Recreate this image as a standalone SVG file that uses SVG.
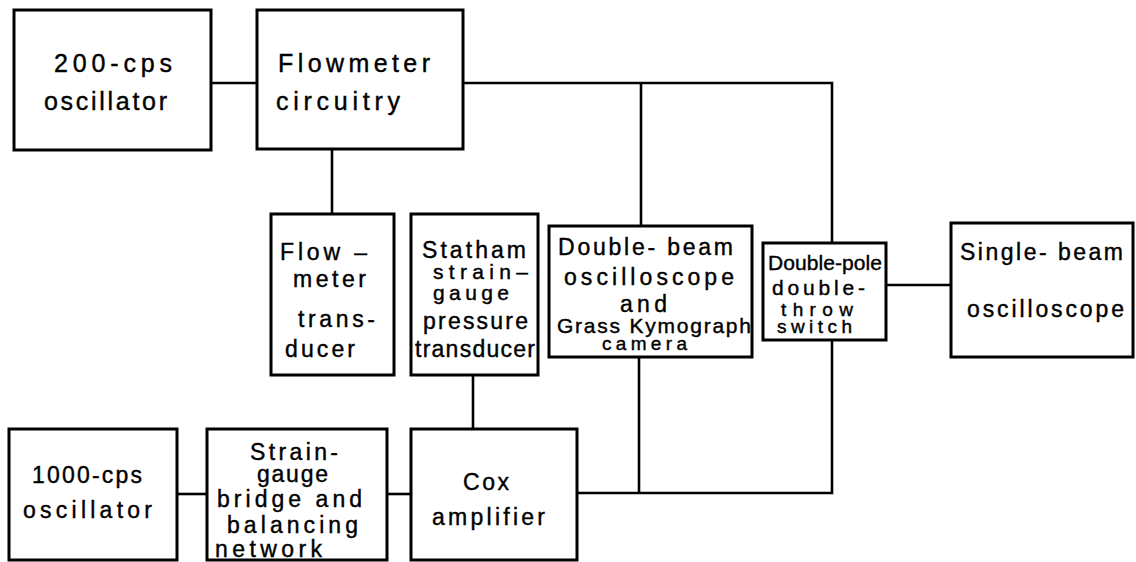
<svg xmlns="http://www.w3.org/2000/svg" width="1136" height="562" viewBox="0 0 1136 562">
<style>
.box{fill:#fff;stroke:#000;stroke-width:3}
.wire{fill:none;stroke:#000;stroke-width:2.6}
text{font-family:"Liberation Sans","DejaVu Sans",sans-serif;fill:#000;stroke:#000;stroke-width:0.4}
.l{font-size:25px}
.m{font-size:23px}
.s{font-size:21px}
.xs{font-size:19px}
</style>
<rect width="1136" height="562" fill="#fff"/>
<g id="connectors">
<polyline class="wire" points="211,83 257,83"/>
<polyline class="wire" points="332,149 332,214"/>
<polyline class="wire" points="463,83 832,83 832,243"/>
<polyline class="wire" points="641,83 641,226"/>
<polyline class="wire" points="473,375 473,429"/>
<polyline class="wire" points="177,494 207,494"/>
<polyline class="wire" points="387,494 411,494"/>
<polyline class="wire" points="577,493 832,493 832,340"/>
<polyline class="wire" points="639,493 639,357"/>
<polyline class="wire" points="886,285 951,285"/>
</g>
<g id="osc200">
<rect class="box" x="14" y="10" width="197" height="140"/>
<text class="l" x="54" y="72" textLength="118">200-cps</text>
<text class="l" x="44" y="110" textLength="123">oscillator</text>
</g>
<g id="flowmeter-circuitry">
<rect class="box" x="257" y="10" width="206" height="139"/>
<text class="l" x="278" y="72" textLength="152">Flowmeter</text>
<text class="l" x="276" y="110" textLength="124">circuitry</text>
</g>
<g id="flowmeter-transducer">
<rect class="box" x="271" y="214" width="123" height="161"/>
<text class="m" x="280" y="260" textLength="87">Flow –</text>
<text class="m" x="293" y="287" textLength="73">meter</text>
<text class="m" x="298" y="327" textLength="77">trans-</text>
<text class="m" x="285" y="357" textLength="70">ducer</text>
</g>
<g id="statham">
<rect class="box" x="411" y="214" width="127" height="161"/>
<text class="m" x="422" y="258" textLength="104">Statham</text>
<text class="s" x="433" y="279" textLength="95">strain–</text>
<text class="s" x="433" y="300" textLength="76">gauge</text>
<text class="m" x="423" y="329" textLength="105">pressure</text>
<text class="m" x="415" y="357" textLength="120">transducer</text>
</g>
<g id="double-beam">
<rect class="box" x="549" y="226" width="203" height="131"/>
<text class="m" x="558" y="255" textLength="175">Double- beam</text>
<text class="m" x="564" y="285" textLength="170">oscilloscope</text>
<text class="m" x="620" y="312" textLength="47">and</text>
<text class="s" x="557" y="333" textLength="194">Grass Kymograph</text>
<text class="xs" x="602" y="350" textLength="85">camera</text>
</g>
<g id="dpdt-switch">
<rect class="box" x="763" y="243" width="123" height="97"/>
<text class="s" x="768" y="270" textLength="114">Double-pole</text>
<text class="s" x="772" y="295" textLength="93">double-</text>
<text class="xs" x="781" y="316" textLength="72">throw</text>
<text class="xs" x="777" y="333" textLength="75">switch</text>
</g>
<g id="single-beam">
<rect class="box" x="951" y="223" width="182" height="134"/>
<text class="m" x="960" y="260" textLength="163">Single- beam</text>
<text class="m" x="967" y="317" textLength="157">oscilloscope</text>
</g>
<g id="osc1000">
<rect class="box" x="9" y="429" width="168" height="131"/>
<text class="m" x="32" y="483" textLength="110">1000-cps</text>
<text class="m" x="23" y="518" textLength="129">oscillator</text>
</g>
<g id="bridge">
<rect class="box" x="207" y="429" width="180" height="131"/>
<text class="m" x="250" y="460" textLength="88">Strain-</text>
<text class="m" x="257" y="482" textLength="71">gauge</text>
<text class="m" x="217" y="507" textLength="145">bridge and</text>
<text class="m" x="227" y="533" textLength="131">balancing</text>
<text class="m" x="215" y="557" textLength="107">network</text>
</g>
<g id="cox">
<rect class="box" x="411" y="429" width="166" height="131"/>
<text class="m" x="463" y="490" textLength="46">Cox</text>
<text class="m" x="432" y="525" textLength="113">amplifier</text>
</g>
</svg>
